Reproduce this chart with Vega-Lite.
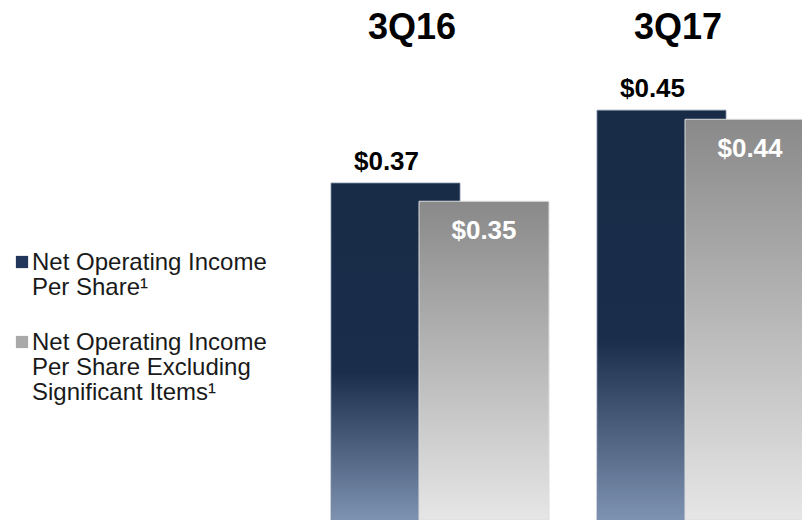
{
  "$schema": "https://vega.github.io/schema/vega-lite/v6.json",
  "width": 802,
  "height": 450,
  "autosize": "none",
  "padding": {"top": 70, "left": 0, "right": 0, "bottom": 0},
  "background": "white",
  "config": {"view": {"stroke": null}, "font": "Liberation Sans"},
  "data": {
    "values": [
      {"quarter": "3Q16", "series": "Net Operating Income Per Share¹", "value": 0.37},
      {"quarter": "3Q16", "series": "Net Operating Income Per Share Excluding Significant Items¹", "value": 0.35},
      {"quarter": "3Q17", "series": "Net Operating Income Per Share¹", "value": 0.45},
      {"quarter": "3Q17", "series": "Net Operating Income Per Share Excluding Significant Items¹", "value": 0.44}
    ]
  },
  "encoding": {
    "x": {
      "field": "quarter",
      "type": "nominal",
      "sort": ["3Q16", "3Q17"],
      "scale": {"type": "band", "range": [331, 863], "paddingInner": 0, "paddingOuter": 0},
      "axis": {
        "orient": "top",
        "title": null,
        "domain": false,
        "ticks": false,
        "grid": false,
        "labelAngle": 0,
        "labelFont": "Liberation Sans",
        "labelFontSize": 36,
        "labelFontWeight": "bold",
        "labelColor": "#000000",
        "labelBaseline": "alphabetic",
        "labelPadding": 32,
        "labelOffset": -52
      }
    },
    "y": {
      "field": "value",
      "type": "quantitative",
      "scale": {"domain": [0, 0.4941], "nice": false, "zero": true},
      "axis": null
    }
  },
  "layer": [
    {
      "transform": [{"filter": "datum.series == 'Net Operating Income Per Share¹'"}],
      "mark": {
        "type": "bar",
        "width": 129,
        "xOffset": -68.5,
        "fill": {
          "gradient": "linear", "x1": 0, "y1": 0, "x2": 0, "y2": 1,
          "stops": [
            {"offset": 0, "color": "#182b47"},
            {"offset": 0.56, "color": "#1a2d4a"},
            {"offset": 1, "color": "#7e92b1"}
          ]
        },
        "stroke": "#7f8ea6",
        "strokeWidth": 0.8
      }
    },
    {
      "transform": [{"filter": "datum.series != 'Net Operating Income Per Share¹'"}],
      "mark": {
        "type": "bar",
        "width": 130,
        "xOffset": 20,
        "fill": {
          "gradient": "linear", "x1": 0, "y1": 0, "x2": 0, "y2": 1,
          "stops": [
            {"offset": 0, "color": "#898989"},
            {"offset": 1, "color": "#e6e6e6"}
          ]
        },
        "stroke": "#dcdcdc",
        "strokeWidth": 1
      }
    },
    {
      "transform": [{"filter": "datum.series == 'Net Operating Income Per Share¹'"}],
      "mark": {
        "type": "text",
        "xOffset": -68.5,
        "dx": -9,
        "dy": -13,
        "baseline": "alphabetic",
        "align": "center",
        "font": "Liberation Sans",
        "fontSize": 26,
        "fontWeight": "bold",
        "color": "#000000"
      },
      "encoding": {"text": {"field": "value", "type": "quantitative", "format": "$.2f"}}
    },
    {
      "transform": [{"filter": "datum.series != 'Net Operating Income Per Share¹'"}],
      "mark": {
        "type": "text",
        "xOffset": 20,
        "dy": 38,
        "baseline": "alphabetic",
        "align": "center",
        "font": "Liberation Sans",
        "fontSize": 26,
        "fontWeight": "bold",
        "color": "#ffffff"
      },
      "encoding": {"text": {"field": "value", "type": "quantitative", "format": "$.2f"}}
    },
    {
      "transform": [{"filter": "false"}],
      "mark": {"type": "bar"},
      "encoding": {
        "color": {
          "field": "series",
          "type": "nominal",
          "scale": {
            "domain": ["Net Operating Income Per Share¹", "Net Operating Income Per Share Excluding Significant Items¹"],
            "range": ["#22355a", "#a9a9a9"]
          },
          "legend": {
            "orient": "none",
            "legendX": 10,
            "legendY": 180,
            "title": null,
            "padding": 0,
            "symbolType": "square",
            "symbolSize": 150,
            "symbolStrokeWidth": 0,
            "labelFont": "Liberation Sans",
            "labelFontSize": 24,
            "labelColor": "#1a1a1a",
            "labelLimit": 400,
            "labelOffset": -2,
            "labelBaseline": "top",
            "rowPadding": 30,
            "labelExpr": "datum.label == 'Net Operating Income Per Share¹' ? ['Net Operating Income', 'Per Share¹'] : ['Net Operating Income', 'Per Share Excluding', 'Significant Items¹']",
            "encode": {
              "labels": {"update": {"dy": {"value": -11}, "lineHeight": {"value": 25}}}
            }
          }
        }
      }
    }
  ]
}
